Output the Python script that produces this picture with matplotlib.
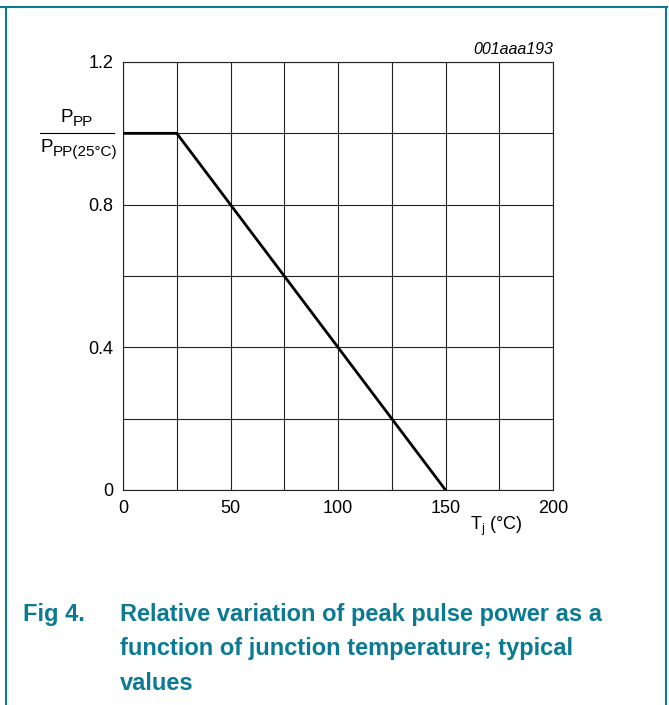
import matplotlib
matplotlib.use('Agg')
import matplotlib.pyplot as plt
from matplotlib.lines import Line2D

plt.rcParams['font.family'] = ['Liberation Sans', 'DejaVu Sans']
plt.rcParams['mathtext.fontset'] = 'custom'
plt.rcParams['mathtext.rm'] = 'Liberation Sans'
plt.rcParams['mathtext.it'] = 'Liberation Sans:italic'

# derating curve: relative peak pulse power vs junction temperature
tj = [0, 25, 150]
ppp_rel = [1.0, 1.0, 0.0]

x_ticks = [0, 50, 100, 150, 200]
y_ticks = [0, 0.4, 0.8, 1.2]
x_grid = [25, 75, 125, 175]
y_grid = [0.2, 0.6, 1.0]

teal = '#0b7a93'

fig = plt.figure(figsize=(6.69, 7.05), dpi=100)
ax = fig.add_axes([123/669, 1-490/705, 430/669, 428/705])

for xv in x_ticks + x_grid:
    ax.axvline(xv, color='#222222', lw=0.8, zorder=1)
for yv in y_ticks + y_grid:
    ax.axhline(yv, color='#222222', lw=0.8, zorder=1)

ax.plot(tj, ppp_rel, color='black', lw=2.0, zorder=3, solid_capstyle='butt')

ax.set_xlim(0, 200)
ax.set_ylim(0, 1.2)
ax.set_xticks(x_ticks)
ax.set_xticklabels([str(v) for v in x_ticks])
ax.set_yticks(y_ticks)
ax.set_yticklabels(['0', '0.4', '0.8', '1.2'])
ax.tick_params(length=0, labelsize=13, pad=7)
for s in ax.spines.values():
    s.set_linewidth(0.8)
    s.set_color('#222222')

# y-axis fraction label: P_PP / P_PP(25°C)
fig.text(60/669, 1-118/705, 'P', ha='left', va='center', fontsize=13.5)
fig.text(72.5/669, 1-122/705, 'PP', ha='left', va='center', fontsize=11)
fig.text(40/669, 1-148/705, 'P', ha='left', va='center', fontsize=13.5)
fig.text(52.5/669, 1-152/705, 'PP(25°C)', ha='left', va='center', fontsize=11)
fig.add_artist(Line2D([40/669, 114/669], [1-133/705, 1-133/705], color='black', lw=0.8))

fig.text(496/669, 1-526/705, r'$\mathregular{T_j}$ (°C)', ha='center', va='center', fontsize=13)
fig.text(553/669, 1-49/705, '001aaa193', ha='right', va='center', fontsize=11.5, style='italic')

# frame around the figure
fig.add_artist(Line2D([0, 667/669], [1-7/705, 1-7/705], color=teal, lw=1.5))
fig.add_artist(Line2D([6/669, 6/669], [0, 1-7/705], color=teal, lw=1.5))
fig.add_artist(Line2D([666/669, 666/669], [0, 1-7/705], color=teal, lw=1.5))

# caption
cap_kw = dict(color=teal, fontsize=17, fontweight='bold', va='center', ha='left')
fig.text(23/669, 1-614/705, 'Fig 4.', **cap_kw)
fig.text(120/669, 1-614/705, 'Relative variation of peak pulse power as a', **cap_kw)
fig.text(120/669, 1-649/705, 'function of junction temperature; typical', **cap_kw)
fig.text(120/669, 1-684/705, 'values', **cap_kw)

fig.savefig('out.png', dpi=100)
